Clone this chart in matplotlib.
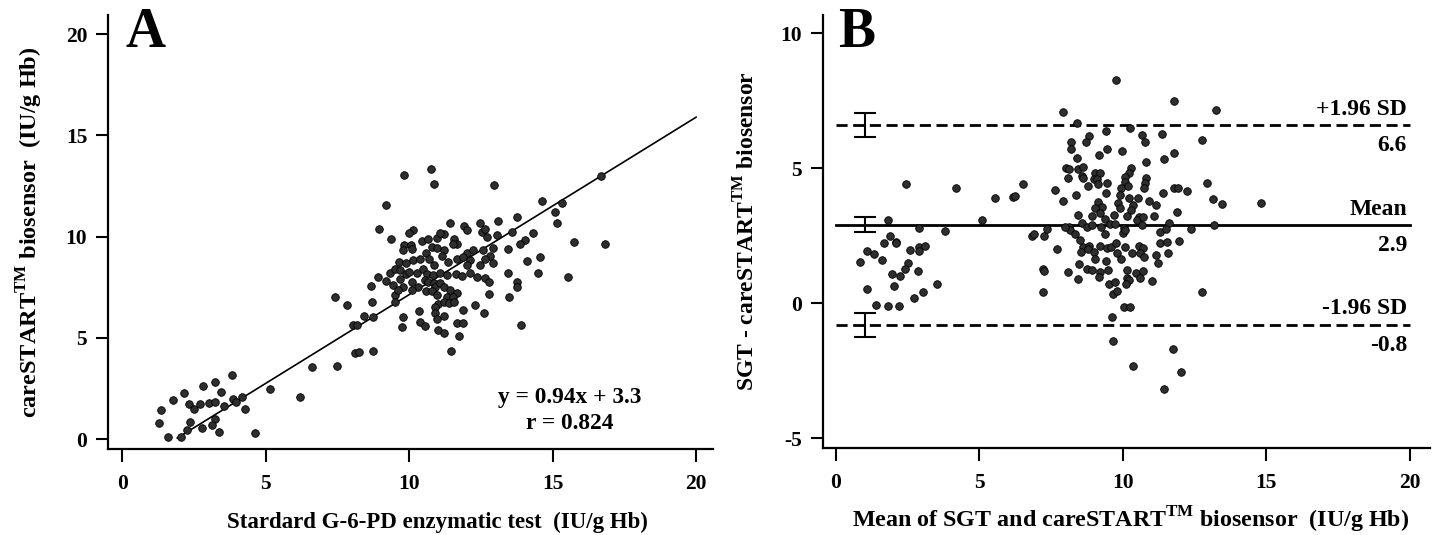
import numpy as np, matplotlib
matplotlib.use("Agg")
import matplotlib.pyplot as plt

plt.rcParams["font.family"] = ["Liberation Serif", "DejaVu Serif"]
plt.rcParams["font.weight"] = "bold"
plt.rcParams["mathtext.fontset"] = "custom"
plt.rcParams["mathtext.rm"] = "Liberation Serif:bold"
plt.rcParams["mathtext.bf"] = "Liberation Serif:bold"
plt.rcParams["axes.unicode_minus"] = False

# ---- panel A: standard test vs biosensor (IU/g Hb) ----
sgt_a = [3.84, 5.16, 3.24, 2.81, 2.14, 1.77, 3.44, 1.35, 2.33, 2.51, 2.72, 3.04, 3.24, 3.55, 3.88, 4.17, 3.96, 4.29,
         1.30, 2.37, 3.24, 3.12, 2.78, 2.25, 3.36, 4.63, 1.61, 2.04,
         10.77, 9.83, 10.87, 12.96, 9.20, 8.95, 10.15, 10.01, 9.36, 11.43, 11.92, 12.01, 12.47, 12.53, 12.65, 13.10,
         9.83, 10.06, 9.80, 10.10, 10.44, 10.67, 10.97, 11.23, 11.06, 11.58, 11.66, 11.54, 10.79, 10.97, 11.20,
         12.03, 12.24, 12.57, 12.94, 13.06, 12.71, 12.82, 12.94,
         9.66, 9.90, 10.13, 10.38, 10.58, 10.71, 10.87, 11.14, 11.37, 11.66, 11.89, 12.13, 12.01, 12.47, 12.65,
         9.34, 9.51, 9.69, 9.90, 10.01, 10.27, 10.48, 10.64, 10.83, 11.08, 11.31, 11.64, 11.84, 12.13, 12.36, 12.65, 12.80,
         8.91, 9.20, 9.45, 9.69, 9.78, 10.09, 10.32, 10.56, 10.67, 10.85, 10.91, 11.06, 11.20, 11.43, 11.66, 12.80,
         8.68, 9.51, 9.63, 10.09, 10.59, 10.79, 10.97, 11.31, 11.52, 11.00, 10.91, 11.20, 11.40, 11.57, 11.89, 12.30, 12.61,
         7.41, 7.83, 8.71, 9.51, 8.44, 8.74, 8.06, 8.18, 9.80, 10.36, 9.75, 10.38, 10.56, 10.91, 10.97, 11.20,
         11.02, 11.22, 11.66, 11.89, 11.75, 11.45, 8.12, 8.27, 8.74, 6.61, 7.50, 6.20,
         16.68, 14.62, 15.33, 15.09, 15.15, 13.75, 13.58, 14.30, 14.05, 13.87, 13.44, 14.56, 14.12, 15.76, 16.83,
         14.48, 15.55, 13.44, 13.75, 13.75, 13.47, 13.90]
bio_a = [3.16, 2.47, 2.83, 2.63, 2.26, 1.93, 2.31, 1.43, 1.73, 1.47, 1.71, 1.79, 1.81, 1.63, 1.96, 2.06, 1.84, 1.51,
         0.82, 0.84, 0.99, 0.69, 0.56, 0.44, 0.33, 0.31, 0.10, 0.12,
         13.32, 13.04, 12.58, 12.54, 11.56, 10.37, 10.32, 10.16, 9.88, 10.65, 10.52, 10.32, 10.65, 10.24, 10.40, 10.78,
         9.58, 9.58, 9.33, 9.37, 9.79, 9.86, 9.91, 10.11, 10.19, 9.86, 9.66, 9.63, 9.50, 9.42, 9.33,
         9.20, 9.33, 9.33, 9.42, 10.07, 9.96, 9.04, 8.68,
         8.76, 8.68, 8.84, 8.92, 9.17, 8.92, 8.59, 9.04, 8.76, 8.92, 9.00, 8.84, 8.59, 8.59, 8.92,
         8.18, 8.38, 8.35, 8.15, 8.26, 8.18, 8.38, 8.15, 8.10, 8.21, 8.10, 8.15, 8.05, 8.21, 8.01, 7.94, 7.77,
         7.99, 7.82, 7.60, 7.89, 7.52, 7.77, 7.52, 7.85, 7.77, 7.72, 7.49, 7.69, 7.52, 7.36, 7.22, 7.16,
         7.56, 7.11, 7.36, 7.36, 7.32, 7.32, 7.11, 7.03, 7.03, 6.67, 6.53, 6.78, 6.70, 6.78, 6.40, 6.62, 6.24,
         7.03, 6.62, 6.75, 6.78, 6.09, 6.01, 5.63, 5.63, 6.04, 6.34, 5.55, 5.79, 5.58, 6.21, 5.91, 6.07,
         5.38, 5.25, 5.71, 5.74, 5.09, 4.36, 4.23, 4.28, 4.35, 3.57, 3.60, 2.06,
         13.00, 11.75, 11.64, 11.22, 10.68, 10.98, 10.24, 10.19, 9.83, 9.63, 9.38, 9.00, 8.79, 9.73, 9.66,
         8.21, 8.01, 8.21, 7.77, 7.52, 7.03, 5.63]
fit_x = [1.92, 20.0]
fit_y = [0.05, 15.9]
eq_text = ["y = 0.94x + 3.3", "r = 0.824"]

# ---- panel B: Bland-Altman ----
mean_b = [2.46, 4.20, 5.56, 6.16, 6.25, 6.53, 7.63, 1.82, 5.08, 2.90, 3.80, 1.88, 1.67, 2.08, 2.11, 1.09, 1.33, 1.61,
          0.84, 2.58, 2.90, 3.10, 2.90, 2.52, 2.40, 2.87, 1.96, 2.22, 2.02, 3.51, 1.07, 3.04, 2.72, 1.39, 1.82, 2.20,
          6.84, 6.91, 7.26, 7.36, 7.72, 7.22, 7.24, 7.22,
          9.76, 7.92, 8.39, 9.41, 10.24, 10.65, 11.35, 8.82, 8.71, 8.19, 8.20, 10.77, 9.43, 9.97, 9.16, 8.39, 8.01,
          8.13, 8.42, 8.62, 8.09, 8.56, 8.62, 9.02, 9.20, 8.99, 9.11, 9.14, 8.79, 9.43, 10.27, 10.21, 10.09, 10.07,
          10.19, 10.80, 10.77, 10.74, 10.81, 9.95, 9.40, 8.35, 7.90, 9.90, 10.21, 10.53, 10.92, 11.17, 9.14, 9.26,
          9.02, 9.84, 9.90, 10.36, 10.30, 10.57, 11.09, 8.42, 8.94, 9.20, 9.37, 9.69, 10.13, 8.56, 8.74, 8.94, 9.23,
          9.55, 9.72, 10.05, 10.48, 10.71, 10.65, 8.13, 8.15, 8.33, 8.50, 8.62, 8.53, 8.83, 8.79, 9.00, 9.22, 9.37,
          9.43, 9.57, 9.76, 10.01, 10.07, 9.78, 9.93, 10.09, 10.32, 10.57, 10.69, 10.59, 10.73, 11.29, 11.29, 11.17,
          11.21, 9.02, 9.41, 8.48, 8.74, 8.91, 9.20, 9.49, 9.17, 9.51, 9.72, 9.64, 9.80, 10.13, 10.16, 10.22, 10.10,
          10.45, 10.59, 10.69, 11.02, 10.03, 10.24, 9.62, 9.66, 10.36, 8.09, 8.42, 7.98,
          11.78, 13.24, 12.74, 11.78, 11.44, 12.92, 11.78, 11.93, 12.24, 11.40, 13.15, 13.47, 14.83, 11.87, 11.61,
          12.39, 13.17, 11.50, 11.54, 11.96, 11.56, 12.76, 11.73, 12.02, 11.43]
diff_b = [4.40, 4.28, 3.90, 3.94, 3.97, 4.41, 4.19, 3.07, 3.07, 2.79, 2.68, 2.49, 2.21, 2.27, 2.22, 1.94, 1.80, 1.58,
          1.52, 1.96, 2.09, 2.11, 1.93, 1.47, 1.28, 1.17, 1.07, 1.02, 0.65, 0.70, 0.53, 0.42, 0.20, -0.06, -0.12, -0.10,
          2.48, 2.56, 2.48, 2.73, 1.99, 1.26, 1.20, 0.42,
          8.26, 7.09, 6.66, 6.38, 6.49, 6.22, 6.28, 6.20, 5.97, 5.97, 5.69, 5.95, 5.70, 5.63, 5.48, 5.36, 5.02,
          4.95, 4.95, 5.05, 4.64, 4.70, 4.64, 4.80, 4.80, 4.60, 4.60, 4.40, 4.33, 4.43, 5.02, 4.83, 4.68, 4.49,
          4.33, 4.62, 4.43, 4.28, 5.23, 4.27, 4.06, 4.00, 3.78, 4.00, 3.91, 3.88, 3.78, 3.63, 3.75, 3.57,
          3.51, 3.71, 3.51, 3.63, 3.44, 3.20, 3.22, 3.28, 3.22, 3.35, 3.10, 3.26, 3.22, 2.95, 2.83, 2.91, 2.83,
          2.93, 2.93, 2.77, 3.07, 3.20, 2.91, 2.83, 2.70, 2.56, 2.33, 2.09, 1.90, 2.11, 1.99, 1.90, 2.11, 2.56,
          2.03, 2.09, 2.23, 2.58, 2.70, 1.84, 1.65, 2.09, 1.84, 2.11, 2.03, 1.86, 1.71, 2.21, 2.64, 1.78,
          1.47, 1.63, 1.57, 1.43, 1.25, 1.22, 1.16, 1.22, 0.97, 0.70, 0.79, 0.33, 0.46, 1.22, 0.91, 0.85, 0.70,
          1.10, 0.91, 1.20, 0.81, -0.16, -0.16, -0.51, -1.41, -2.32, 1.14, 0.89, 2.83,
          7.49, 7.17, 6.04, 5.57, 5.33, 4.46, 4.27, 4.27, 4.15, 4.06, 3.84, 3.67, 3.69, 3.36, 2.97,
          2.74, 2.91, 2.73, 2.27, 2.31, 1.84, 0.42, -1.70, -2.54, -3.20]
ba_levels = [6.6, 2.9, -0.8]
ba_names = ["+1.96 SD", "Mean", "-1.96 SD"]
ba_values = ["6.6", "2.9", "-0.8"]
ba_ci_half = [0.45, 0.27, 0.45]

fig = plt.figure(figsize=(14.37, 5.35), dpi=100)
axA = fig.add_axes([0.0752, 0.1607, 0.421, 0.811])
axB = fig.add_axes([0.5727, 0.1626, 0.4224, 0.8093])

def style(ax):
    for s in ["top", "right"]:
        ax.spines[s].set_visible(False)
    for s in ["left", "bottom"]:
        ax.spines[s].set_linewidth(1.6)
    ax.tick_params(direction="out", length=9, width=1.5, labelsize=15.5)
    ax.tick_params(axis="x", pad=9)
    ax.tick_params(axis="y", pad=6)
    for lb in ax.get_xticklabels() + ax.get_yticklabels():
        lb.set_fontweight("bold")

# panel A
axA.scatter(sgt_a, bio_a, s=30, c="#2e2e2e", edgecolors="black", linewidths=0.6, zorder=3)
axA.plot(fit_x, fit_y, color="black", lw=1.2, zorder=2)
axA.set_xlim(-0.49, 20.59); axA.set_ylim(-0.49, 20.94)
axA.set_xticks([0, 5, 10, 15, 20]); axA.set_yticks([0, 5, 10, 15, 20])
style(axA)
axA.set_xlabel("Stardard G-6-PD enzymatic test  (IU/g Hb)", fontsize=16.5, fontweight="bold", labelpad=12.5)
axA.xaxis.label.set_x(0.544)
axA.set_ylabel(r"careSTART$^{\mathrm{TM}}$ biosensor  (IU/g Hb)", fontsize=17.5, fontweight="bold", labelpad=15)
axA.text(15.6, 2.07, eq_text[0], ha="center", va="center", fontsize=16.8, fontweight="bold")
axA.text(15.6, 0.79, eq_text[1], ha="center", va="center", fontsize=16.8, fontweight="bold")
axA.text(0.028, 0.926, "A", transform=axA.transAxes, fontsize=40, fontweight="bold", va="baseline")

# panel B
axB.scatter(mean_b, diff_b, s=30, c="#2e2e2e", edgecolors="black", linewidths=0.6, zorder=3)
for lvl, nm, val, ci in zip(ba_levels, ba_names, ba_values, ba_ci_half):
    ls = "-" if nm == "Mean" else (0, (4, 2))
    axB.plot([0, 20], [lvl, lvl], color="black", lw=2, ls=ls, zorder=2)
    axB.errorbar([1], [lvl], yerr=[ci], fmt="none", ecolor="black", elinewidth=1.5, capsize=8, capthick=1.5)
    axB.text(19.9, lvl + 0.58, nm, ha="right", va="center", fontsize=17, fontweight="bold")
    axB.text(19.9, lvl - 0.78, val, ha="right", va="center", fontsize=17, fontweight="bold")
axB.set_xlim(-0.45, 20.7); axB.set_ylim(-5.37, 10.67)
axB.set_xticks([0, 5, 10, 15, 20]); axB.set_yticks([-5, 0, 5, 10])
style(axB)
axB.set_xlabel(r"Mean of SGT and careSTART$^{\mathrm{TM}}$ biosensor  (IU/g Hb)", fontsize=17.3, fontweight="bold", labelpad=8.5)
axB.xaxis.label.set_x(0.507)
axB.set_ylabel(r"SGT - careSTART$^{\mathrm{TM}}$ biosensor", fontsize=17, fontweight="bold", labelpad=15)
axB.text(0.025, 0.926, "B", transform=axB.transAxes, fontsize=40, fontweight="bold", va="baseline")

plt.savefig("out.png", dpi=100)
plt.close()
